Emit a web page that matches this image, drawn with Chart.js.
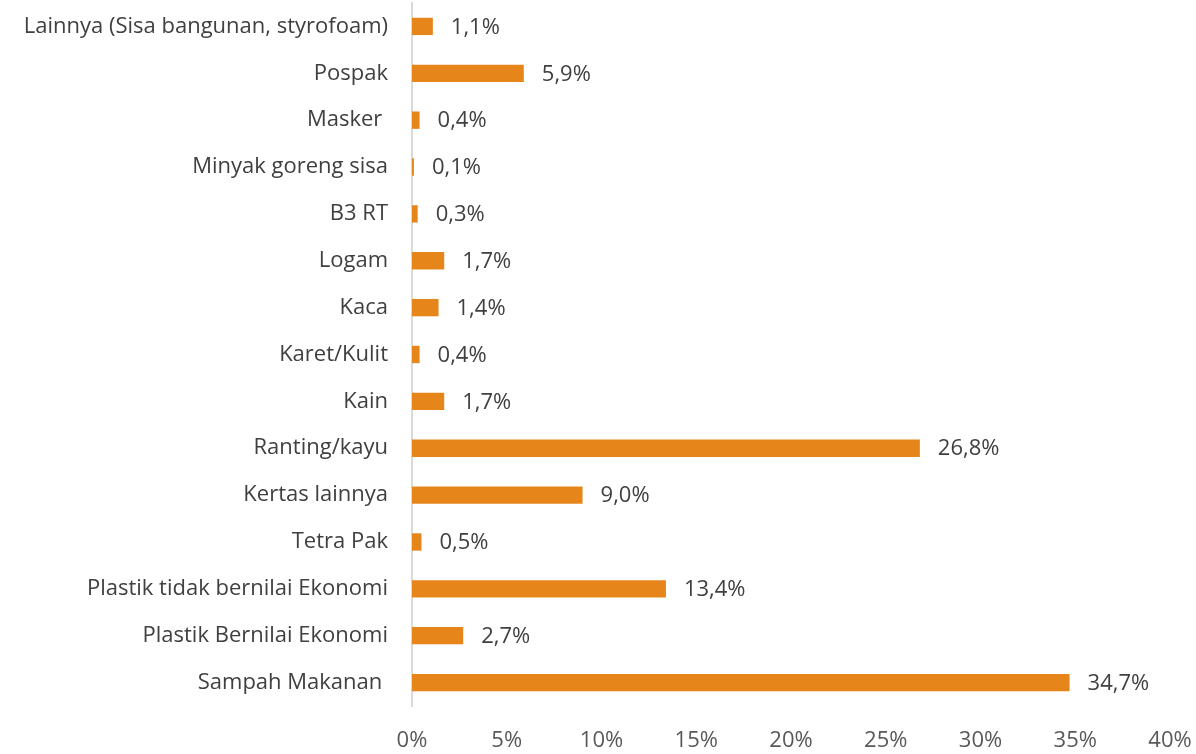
<!DOCTYPE html>
<html>
<head>
<meta charset="utf-8">
<script src="https://cdn.jsdelivr.net/npm/chart.js@4"></script>
<style>
  html, body { margin: 0; padding: 0; background: #fff; }
  #wrap { width: 1196px; height: 754px; }
</style>
</head>
<body>
<div id="wrap"><canvas id="chart" width="1196" height="754"></canvas></div>
<script>
const categories = [
  'Lainnya (Sisa bangunan, styrofoam)',
  'Pospak',
  'Masker ',
  'Minyak goreng sisa',
  'B3 RT',
  'Logam',
  'Kaca',
  'Karet/Kulit',
  'Kain',
  'Ranting/kayu',
  'Kertas lainnya',
  'Tetra Pak',
  'Plastik tidak bernilai Ekonomi',
  'Plastik Bernilai Ekonomi',
  'Sampah Makanan '
];
const shares = [1.1, 5.9, 0.4, 0.1, 0.3, 1.7, 1.4, 0.4, 1.7, 26.8, 9.0, 0.5, 13.4, 2.7, 34.7];
const xTicks = [0, 5, 10, 15, 20, 25, 30, 35, 40];

const FONT = "'Open Sans', 'Noto Sans', sans-serif";
const fmt = v => v.toFixed(1).replace('.', ',') + '%';

// value labels to the right of each bar
const barLabels = {
  id: 'barLabels',
  afterDatasetsDraw(chart) {
    const ctx = chart.ctx;
    const meta = chart.getDatasetMeta(0);
    ctx.save();
    ctx.font = '22px ' + FONT;
    ctx.fillStyle = '#404040';
    ctx.textBaseline = 'middle';
    ctx.textAlign = 'left';
    meta.data.forEach((bar, i) => {
      ctx.fillText(fmt(shares[i]), bar.x + 18, bar.y + 1);
    });
    ctx.restore();
  }
};

const noPad = axis => {
  axis.paddingTop = 0; axis.paddingBottom = 0;
  axis.paddingLeft = 0; axis.paddingRight = 0;
};

new Chart(document.getElementById('chart'), {
  type: 'bar',
  data: {
    labels: categories,
    datasets: [{
      data: shares,
      backgroundColor: '#E6851A',
      borderWidth: 0,
      barPercentage: 0.37,
      categoryPercentage: 1
    }]
  },
  options: {
    indexAxis: 'y',
    responsive: false,
    animation: false,
    layout: { padding: { top: 3, right: 26, bottom: 0, left: 0 } },
    plugins: { legend: { display: false }, tooltip: { enabled: false } },
    scales: {
      x: {
        min: 0, max: 40,
        afterBuildTicks: axis => { axis.ticks = xTicks.map(v => ({ value: v })); },
        grid: { display: false, drawTicks: false },
        border: { display: false },
        ticks: {
          padding: 22,
          color: '#595959',
          font: { family: FONT, size: 22 },
          callback: v => v + '%'
        },
        afterFit: axis => { axis.height = 48; noPad(axis); }
      },
      y: {
        grid: { display: false, drawTicks: false },
        border: { display: true, color: '#D9D9D9', width: 2 },
        ticks: {
          padding: 24,
          color: '#404040',
          font: { family: FONT, size: 22 }
        },
        afterFit: axis => { axis.width = 412; noPad(axis); }
      }
    }
  },
  plugins: [barLabels]
});
</script>
</body>
</html>
